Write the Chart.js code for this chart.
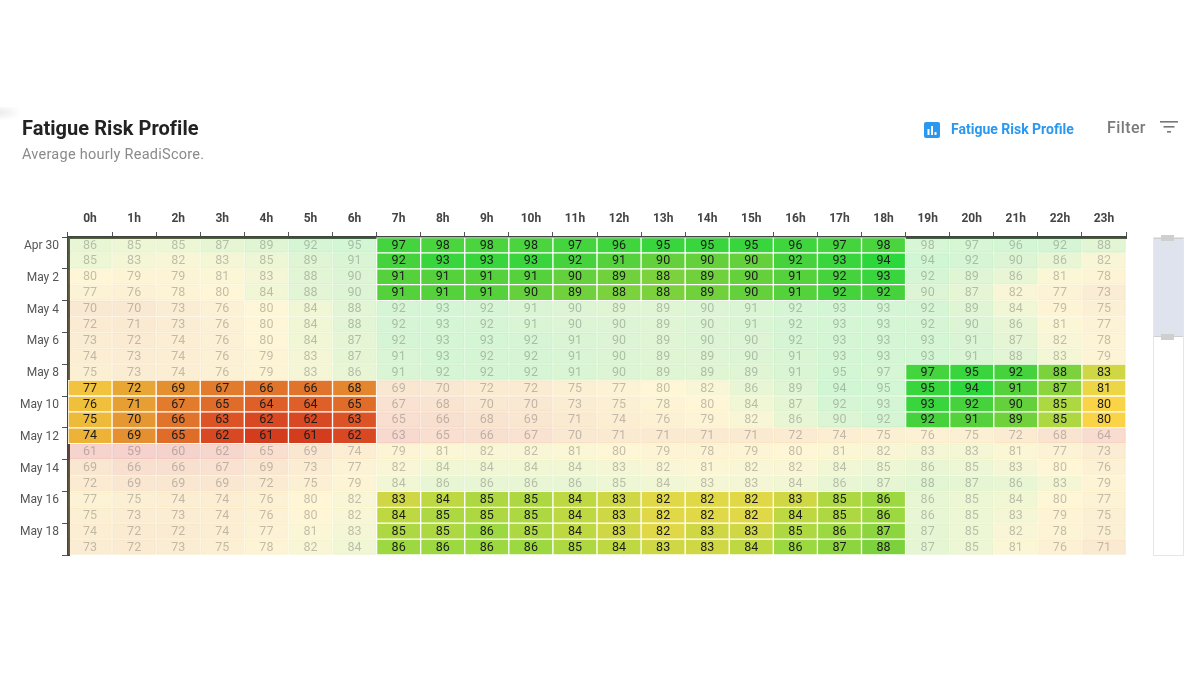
<!DOCTYPE html>
<html>
<head>
<meta charset="utf-8">
<title>Fatigue Risk Profile</title>
<script src="https://cdn.jsdelivr.net/npm/chart.js@4"></script>
<style>
  html, body { margin: 0; padding: 0; background: #fff; }
  body { width: 1200px; height: 700px; position: relative; overflow: hidden; font-family: Roboto, sans-serif; }
  #chart { position: absolute; left: 0; top: 0; }
  .abs { position: absolute; white-space: nowrap; }
  #title { left: 22px; top: 116px; font-size: 20px; font-weight: 700; color: #222; letter-spacing: .05px; }
  #subtitle { left: 22px; top: 146px; font-size: 14.5px; color: #8a8a8a; letter-spacing: .25px; }
  #tabLabel { left: 951px; top: 121px; font-size: 14px; font-weight: 700; color: #2b98f0; letter-spacing: 0; }
  #filterLabel { left: 1107px; top: 118px; font-size: 16px; font-weight: 500; color: #7a7a7a; letter-spacing: .4px; }
  #corner { left: 0; top: 107px; width: 22px; height: 14px; background: radial-gradient(ellipse at 0 40%, #ececec, #fff 70%); }
  #slider { left: 1153px; top: 237px; width: 29px; height: 317px; border: 1px solid #e6e6e6; background: #fff; }
  #sliderFill { left: 0; top: 0; width: 29px; height: 99px; background: #dfe3ee; border-bottom: 1px solid #cfcfcf; border-top: 1px solid #cfcfcf; box-sizing: border-box; }
  .handle { left: 1161px; width: 13px; height: 6px; background: #cfcfcf; }
</style>
</head>
<body>
<canvas id="chart" width="1200" height="700"></canvas>
<div class="abs" id="corner"></div>
<div class="abs" id="title">Fatigue Risk Profile</div>
<div class="abs" id="subtitle">Average hourly ReadiScore.</div>
<svg class="abs" style="left:924px;top:122px" width="16" height="16">
  <rect width="16" height="16" rx="2" fill="#2b98f0"/>
  <rect x="3.5" y="7" width="2" height="6" fill="#fff"/>
  <rect x="7" y="4" width="2" height="9" fill="#fff"/>
  <rect x="10.5" y="10" width="2" height="3" fill="#fff"/>
</svg>
<div class="abs" id="tabLabel">Fatigue Risk Profile</div>
<div class="abs" id="filterLabel">Filter</div>
<svg class="abs" style="left:1160px;top:121px" width="18" height="13">
  <rect x="0" y="0" width="18" height="1.6" fill="#777"/>
  <rect x="3.5" y="5" width="11" height="1.6" fill="#777"/>
  <rect x="7" y="10" width="4" height="1.6" fill="#777"/>
</svg>
<div class="abs" id="slider"><div class="abs" id="sliderFill"></div></div>
<div class="abs handle" style="top:235px"></div>
<div class="abs handle" style="top:334px"></div>

<script>
const hours = ['0h', '1h', '2h', '3h', '4h', '5h', '6h', '7h', '8h', '9h', '10h', '11h',
  '12h', '13h', '14h', '15h', '16h', '17h', '18h', '19h', '20h', '21h', '22h', '23h'];

const dates = ['Apr 30', 'May 1', 'May 2', 'May 3', 'May 4', 'May 5', 'May 6', 'May 7', 'May 8', 'May 9',
  'May 10', 'May 11', 'May 12', 'May 13', 'May 14', 'May 15', 'May 16', 'May 17', 'May 18', 'May 19'];

// one row per date, one column per hour
const scores = [
  [86, 85, 85, 87, 89, 92, 95, 97, 98, 98, 98, 97, 96, 95, 95, 95, 96, 97, 98, 98, 97, 96, 92, 88],
  [85, 83, 82, 83, 85, 89, 91, 92, 93, 93, 93, 92, 91, 90, 90, 90, 92, 93, 94, 94, 92, 90, 86, 82],
  [80, 79, 79, 81, 83, 88, 90, 91, 91, 91, 91, 90, 89, 88, 89, 90, 91, 92, 93, 92, 89, 86, 81, 78],
  [77, 76, 78, 80, 84, 88, 90, 91, 91, 91, 90, 89, 88, 88, 89, 90, 91, 92, 92, 90, 87, 82, 77, 73],
  [70, 70, 73, 76, 80, 84, 88, 92, 93, 92, 91, 90, 89, 89, 90, 91, 92, 93, 93, 92, 89, 84, 79, 75],
  [72, 71, 73, 76, 80, 84, 88, 92, 93, 92, 91, 90, 90, 89, 90, 91, 92, 93, 93, 92, 90, 86, 81, 77],
  [73, 72, 74, 76, 80, 84, 87, 92, 93, 93, 92, 91, 90, 89, 90, 90, 92, 93, 93, 93, 91, 87, 82, 78],
  [74, 73, 74, 76, 79, 83, 87, 91, 93, 92, 92, 91, 90, 89, 89, 90, 91, 93, 93, 93, 91, 88, 83, 79],
  [75, 73, 74, 76, 79, 83, 86, 91, 92, 92, 92, 91, 90, 89, 89, 89, 91, 95, 97, 97, 95, 92, 88, 83],
  [77, 72, 69, 67, 66, 66, 68, 69, 70, 72, 72, 75, 77, 80, 82, 86, 89, 94, 95, 95, 94, 91, 87, 81],
  [76, 71, 67, 65, 64, 64, 65, 67, 68, 70, 70, 73, 75, 78, 80, 84, 87, 92, 93, 93, 92, 90, 85, 80],
  [75, 70, 66, 63, 62, 62, 63, 65, 66, 68, 69, 71, 74, 76, 79, 82, 86, 90, 92, 92, 91, 89, 85, 80],
  [74, 69, 65, 62, 61, 61, 62, 63, 65, 66, 67, 70, 71, 71, 71, 71, 72, 74, 75, 76, 75, 72, 68, 64],
  [61, 59, 60, 62, 65, 69, 74, 79, 81, 82, 82, 81, 80, 79, 78, 79, 80, 81, 82, 83, 83, 81, 77, 73],
  [69, 66, 66, 67, 69, 73, 77, 82, 84, 84, 84, 84, 83, 82, 81, 82, 82, 84, 85, 86, 85, 83, 80, 76],
  [72, 69, 69, 69, 72, 75, 79, 84, 86, 86, 86, 86, 85, 84, 83, 83, 84, 86, 87, 88, 87, 86, 83, 79],
  [77, 75, 74, 74, 76, 80, 82, 83, 84, 85, 85, 84, 83, 82, 82, 82, 83, 85, 86, 86, 85, 84, 80, 77],
  [75, 73, 73, 74, 76, 80, 82, 84, 85, 85, 85, 84, 83, 82, 82, 82, 84, 85, 86, 86, 85, 83, 79, 75],
  [74, 72, 72, 74, 77, 81, 83, 85, 85, 86, 85, 84, 83, 82, 83, 83, 85, 86, 87, 87, 85, 82, 78, 75],
  [73, 72, 73, 75, 78, 82, 84, 86, 86, 86, 86, 85, 84, 83, 83, 84, 86, 87, 88, 87, 85, 81, 76, 71]
];

// highlighted blocks: first row, last row, first hour, last hour
const highlights = [
  [0, 3, 7, 18],
  [8, 11, 19, 23],
  [9, 12, 0, 6],
  [16, 19, 7, 18]
];

// score -> colour stops
const colorStops = [
  [59, [208, 48, 28]], [61, [212, 60, 30]], [63, [220, 84, 38]], [65, [224, 108, 42]], [67, [226, 124, 44]],
  [69, [228, 144, 48]], [72, [232, 166, 52]], [75, [238, 186, 58]], [78, [244, 200, 64]], [80, [250, 212, 70]],
  [82, [224, 216, 70]], [84, [190, 216, 66]], [86, [156, 216, 64]], [88, [124, 210, 60]], [90, [100, 208, 60]],
  [92, [70, 210, 60]], [94, [44, 215, 60]], [95, [56, 213, 60]], [98, [74, 212, 62]]
];

function scoreColor(v, alpha) {
  let i = 0;
  while (i < colorStops.length - 2 && v > colorStops[i + 1][0]) i++;
  const a = colorStops[i], b = colorStops[i + 1];
  const t = Math.min(1, Math.max(0, (v - a[0]) / (b[0] - a[0])));
  const c = a[1].map((n, k) => Math.round(n + (b[1][k] - n) * t));
  return `rgba(${c[0]}, ${c[1]}, ${c[2]}, ${alpha})`;
}

function isHighlighted(row, col) {
  return highlights.some(h => row >= h[0] && row <= h[1] && col >= h[2] && col <= h[3]);
}

// each date is one dataset of floating bars spanning its row on the y scale
const datasets = dates.map((d, row) => ({
  label: d,
  data: hours.map(() => [row, row + 1]),
  grouped: false,
  barPercentage: 1,
  categoryPercentage: 1,
  borderSkipped: false,
  borderWidth: 1,
  backgroundColor: ctx => scoreColor(scores[row][ctx.dataIndex], isHighlighted(row, ctx.dataIndex) ? 1 : 0.22),
  borderColor: ctx => isHighlighted(row, ctx.dataIndex) ? '#fff' : scoreColor(scores[row][ctx.dataIndex], 0.1)
}));

const cellLabels = {
  id: 'cellLabels',
  afterDatasetsDraw(chart) {
    const c = chart.ctx;
    c.save();
    c.font = '12.5px Roboto, sans-serif';
    c.textAlign = 'center';
    c.textBaseline = 'middle';
    chart.data.datasets.forEach((ds, row) => {
      chart.getDatasetMeta(row).data.forEach((bar, col) => {
        c.fillStyle = isHighlighted(row, col) ? '#1c1c1c' : 'rgba(60, 60, 60, 0.3)';
        c.fillText(scores[row][col], bar.x, (bar.y + bar.base) / 2 + 0.5);
      });
    });
    c.restore();
  }
};

new Chart(document.getElementById('chart').getContext('2d'), {
  type: 'bar',
  data: { labels: hours, datasets: datasets },
  plugins: [cellLabels],
  options: {
    responsive: false,
    animation: false,
    layout: { padding: { left: 0, top: 0, right: 74, bottom: 145 } },
    plugins: { legend: { display: false }, title: { display: false }, tooltip: { enabled: false } },
    scales: {
      x: {
        position: 'top',
        offset: true,
        afterFit: s => { s.height = 237; },
        grid: { drawOnChartArea: false, offset: true, color: '#555', tickLength: 5, lineWidth: 1 },
        border: { color: '#444', width: 3 },
        ticks: { color: '#444', font: { family: 'Roboto, sans-serif', size: 12, weight: '700' }, padding: 6, maxRotation: 0, autoSkip: false }
      },
      y: {
        reverse: true,
        min: 0,
        max: 20,
        afterFit: s => { s.width = 68; },
        grid: { drawOnChartArea: false, color: '#555', tickLength: 6, lineWidth: 1 },
        border: { color: '#444', width: 3 },
        ticks: {
          stepSize: 2,
          autoSkip: false,
          padding: 3,
          labelOffset: 9,
          color: '#555',
          font: { family: 'Roboto, sans-serif', size: 12 },
          callback: v => dates[v] || ''
        }
      }
    }
  }
});
</script>
</body>
</html>
